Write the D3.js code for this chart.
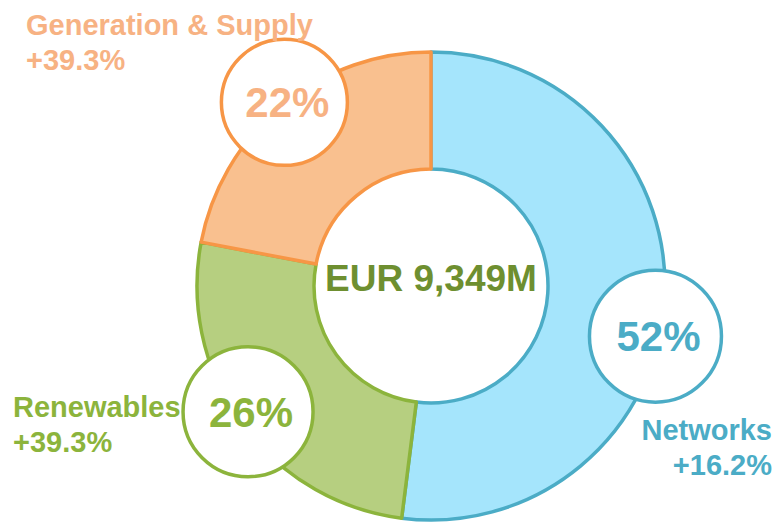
<!DOCTYPE html>
<html>
<head>
<meta charset="utf-8">
<script src="https://cdn.jsdelivr.net/npm/d3@7"></script>
<style>
    body { margin: 0; background: #fff; }
    svg { display: block; font-family: "Liberation Sans", Arial, sans-serif; font-weight: bold; }
</style>
</head>
<body>
<div id="chart"></div>
<script>
// Chart data
const segments = ['Networks', 'Renewables', 'Generation & Supply'];
const shares = [52, 26, 22];
const growth = ['+16.2%', '+39.3%', '+39.3%'];
const totalLabel = 'EUR 9,349M';

// Colours per segment
const fills = ['#a5e5fc', '#b6cf80', '#f9c08f'];
const strokes = ['#4bacc6', '#8cb43c', '#f79646'];
const textColors = ['#4bacc6', '#8cb43c', '#f7b283'];

const width = 777;
const height = 522;
const cx = 431, cy = 286;
const outerR = 234, innerR = 117;

// Bubble placement (angle nudge in degrees, distance from centre, radius)
const bubbles = [
    {nudge: 9, dist: 230, r: 66},
    {nudge: 1.5, dist: 222, r: 65},
    {nudge: 1, dist: 235, r: 63}
];
// Label placement
const labels = [
    {x: 772, y: 440, anchor: 'end'},
    {x: 13, y: 417, anchor: 'start'},
    {x: 26, y: 35, anchor: 'start'}
];

function init() {
    const svg = d3.select('#chart')
        .append('svg')
        .attr('width', width)
        .attr('height', height);

    const pie = d3.pie().sort(null).value(d => d);
    const arcs = pie(shares);

    const arc = d3.arc().innerRadius(innerR).outerRadius(outerR);

    const g = svg.append('g').attr('transform', `translate(${cx},${cy})`);

    // Donut slices
    g.selectAll('path')
        .data(arcs)
        .enter()
        .append('path')
        .attr('d', arc)
        .attr('fill', (d, i) => fills[i])
        .attr('stroke', (d, i) => strokes[i])
        .attr('stroke-width', 3.5)
        .attr('stroke-linejoin', 'round');

    // Total in the middle
    g.append('text')
        .attr('x', 0)
        .attr('y', 5)
        .attr('text-anchor', 'middle')
        .attr('fill', '#6e8f30')
        .style('font-size', '37px')
        .text(totalLabel);

    // Share bubbles
    arcs.forEach((d, i) => {
        const b = bubbles[i];
        const a = (d.startAngle + d.endAngle) / 2 + b.nudge * Math.PI / 180;
        const x = b.dist * Math.sin(a);
        const y = -b.dist * Math.cos(a);
        g.append('circle')
            .attr('cx', x)
            .attr('cy', y)
            .attr('r', b.r)
            .attr('fill', '#fff')
            .attr('stroke', strokes[i])
            .attr('stroke-width', 3.5);
        g.append('text')
            .attr('x', x + 3)
            .attr('y', y + 15)
            .attr('text-anchor', 'middle')
            .attr('fill', textColors[i])
            .style('font-size', '42px')
            .text(shares[i] + '%');
    });

    // Segment labels
    segments.forEach((name, i) => {
        const l = labels[i];
        const t = svg.append('text')
            .attr('text-anchor', l.anchor)
            .attr('fill', textColors[i])
            .style('font-size', '29px');
        t.append('tspan').attr('x', l.x).attr('y', l.y).text(name);
        t.append('tspan').attr('x', l.x).attr('y', l.y + 35).text(growth[i]);
    });
}

document.addEventListener('DOMContentLoaded', init);
</script>
</body>
</html>
